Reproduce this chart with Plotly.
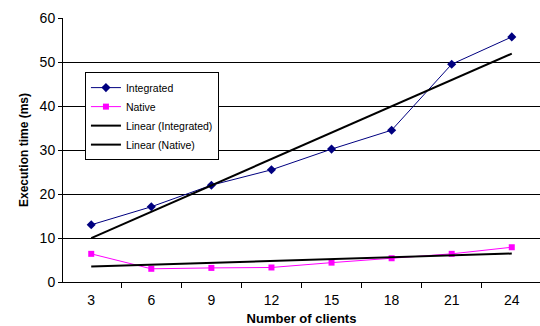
import numpy as np
import plotly.graph_objects as go

clients = [3, 6, 9, 12, 15, 18, 21, 24]
integrated = [13.0, 17.1, 22.0, 25.5, 30.2, 34.5, 49.5, 55.7]
native = [6.4, 3.0, 3.2, 3.3, 4.4, 5.4, 6.4, 7.9]
y_ticks = [0, 10, 20, 30, 40, 50, 60]

cats = [str(c) for c in clients]
idx = np.arange(1, len(clients) + 1)
trend_int = np.polyval(np.polyfit(idx, integrated, 1), idx)
trend_nat = np.polyval(np.polyfit(idx, native, 1), idx)

font = "Liberation Sans, Arial, sans-serif"

fig = go.Figure()
fig.add_trace(go.Scatter(x=cats, y=integrated, name="Integrated", mode="lines+markers",
                         line=dict(color="#000080", width=1),
                         marker=dict(symbol="diamond", size=7, color="#000080")))
fig.add_trace(go.Scatter(x=cats, y=native, name="Native", mode="lines+markers",
                         line=dict(color="#FF00FF", width=1),
                         marker=dict(symbol="square", size=6, color="#FF00FF")))
fig.add_trace(go.Scatter(x=cats, y=trend_int, name="Linear (Integrated)", mode="lines",
                         line=dict(color="black", width=2)))
fig.add_trace(go.Scatter(x=cats, y=trend_nat, name="Linear (Native)", mode="lines",
                         line=dict(color="black", width=2)))

fig.update_layout(
    width=540, height=326,
    margin=dict(l=63, r=0, t=18, b=44),
    paper_bgcolor="white", plot_bgcolor="white",
    font=dict(family=font, size=14, color="black"),
    showlegend=True,
    legend=dict(x=0.046, y=0.795, xanchor="left", yanchor="top",
                bgcolor="white", bordercolor="black", borderwidth=1,
                font=dict(size=10.5, family=font), itemwidth=30,
                tracegroupgap=0, traceorder="normal"),
    xaxis=dict(type="category", tickson="boundaries", ticks="outside", ticklen=5,
               tickcolor="black", showline=True, linecolor="black", linewidth=1,
               showgrid=False, tickfont=dict(size=14), ticklabelstandoff=5,
               title=dict(text="<b>Number of clients</b>", font=dict(size=13), standoff=8)),
    yaxis=dict(range=[0, 60], tickvals=y_ticks, ticks="outside", ticklen=4,
               tickcolor="black", showline=True, linecolor="black", linewidth=1,
               showgrid=True, gridcolor="black", gridwidth=1, zeroline=False,
               tickfont=dict(size=14),
               title=dict(text="<b>Execution time (ms)</b>", font=dict(size=12), standoff=8)),
)

fig.write_html("out.html", config={"displayModeBar": False},
               post_script="document.body.style.margin='0';")
